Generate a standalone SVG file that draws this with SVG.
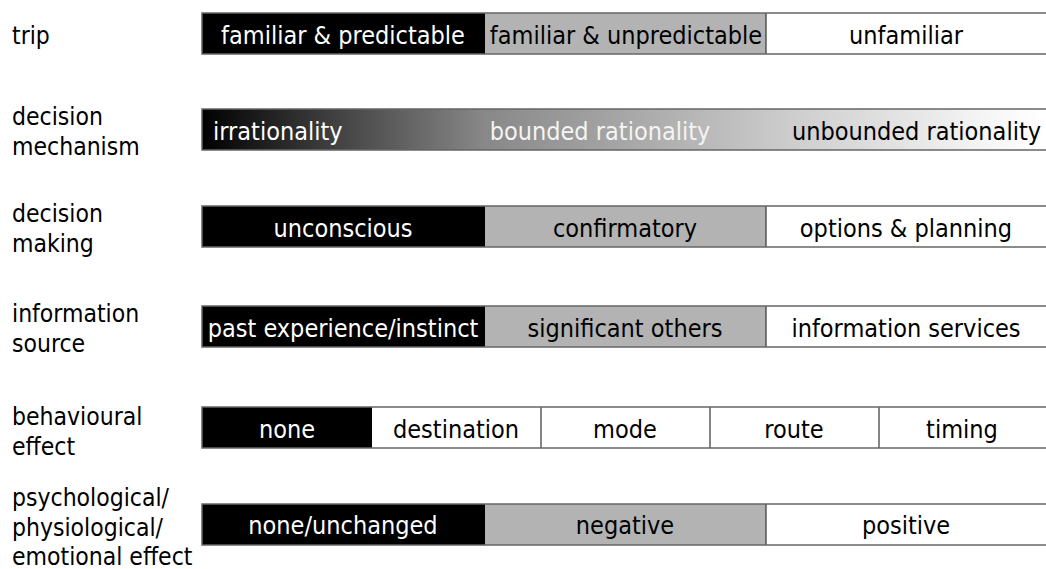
<svg xmlns="http://www.w3.org/2000/svg" width="1046" height="569" viewBox="0 0 1046 569">
<style>
text{font-family:"DejaVu Sans Condensed","DejaVu Sans",sans-serif;font-stretch:condensed;font-size:25px;fill:#000}
.lbl{font-size:24.5px}
.w{fill:#fff}
.c{text-anchor:middle}
.blk{fill:#000}
.gry{fill:#b3b3b3}
.wht{fill:#fff}
.sep{stroke:#333;stroke-width:1.2}
.frame{fill:none;stroke:#666;stroke-width:1.5}
</style>
<defs>
<linearGradient id="grad" x1="202" y1="0" x2="1046" y2="0" gradientUnits="userSpaceOnUse">
<stop offset="0" stop-color="#000"/>
<stop offset="0.01" stop-color="#050505"/>
<stop offset="0.175" stop-color="#484848"/>
<stop offset="0.335" stop-color="#888"/>
<stop offset="0.52" stop-color="#aaa"/>
<stop offset="0.71" stop-color="#cfcfcf"/>
<stop offset="0.945" stop-color="#f8f8f8"/>
<stop offset="1" stop-color="#fff"/>
</linearGradient>
</defs>
<rect width="1046" height="569" fill="#fff"/>

<g id="row-trip">
<text class="lbl" x="12" y="44">trip</text>
<rect class="blk" x="202" y="13" width="283" height="41"/>
<rect class="gry" x="485" y="13" width="281" height="41"/>
<rect class="wht" x="766" y="13" width="280" height="41"/>
<line class="sep" x1="766" y1="13" x2="766" y2="54"/>
<rect class="frame" x="202" y="13" width="850" height="41"/>
<text class="c w" x="343" y="44">familiar &amp; predictable</text>
<text class="c" x="626" y="44">familiar &amp; unpredictable</text>
<text class="c" x="906" y="44">unfamiliar</text>
</g>

<g id="row-decision-mechanism">
<text class="lbl" x="12" y="125">decision</text>
<text class="lbl" x="12" y="155">mechanism</text>
<rect x="202" y="109" width="850" height="41" fill="url(#grad)"/>
<rect class="frame" x="202" y="109" width="850" height="41"/>
<text class="w" x="213" y="140">irrationality</text>
<text class="c" x="600" y="140" style="fill:#f4f4f4">bounded rationality</text>
<text x="1041" y="140" text-anchor="end">unbounded rationality</text>
</g>

<g id="row-decision-making">
<text class="lbl" x="12" y="222">decision</text>
<text class="lbl" x="12" y="252">making</text>
<rect class="blk" x="202" y="206" width="283" height="41"/>
<rect class="gry" x="485" y="206" width="281" height="41"/>
<rect class="wht" x="766" y="206" width="280" height="41"/>
<line class="sep" x1="766" y1="206" x2="766" y2="247"/>
<rect class="frame" x="202" y="206" width="850" height="41"/>
<text class="c w" x="343" y="237">unconscious</text>
<text class="c" x="625" y="237">confirmatory</text>
<text class="c" x="906" y="237">options &amp; planning</text>
</g>

<g id="row-information-source">
<text class="lbl" x="12" y="322">information</text>
<text class="lbl" x="12" y="352">source</text>
<rect class="blk" x="202" y="306" width="283" height="41"/>
<rect class="gry" x="485" y="306" width="281" height="41"/>
<rect class="wht" x="766" y="306" width="280" height="41"/>
<line class="sep" x1="766" y1="306" x2="766" y2="347"/>
<rect class="frame" x="202" y="306" width="850" height="41"/>
<text class="c w" x="343" y="337">past experience/instinct</text>
<text class="c" x="625" y="337">significant others</text>
<text class="c" x="906" y="337">information services</text>
</g>

<g id="row-behavioural-effect">
<text class="lbl" x="12" y="425">behavioural</text>
<text class="lbl" x="12" y="455">effect</text>
<rect class="blk" x="202" y="407" width="170" height="41"/>
<rect class="wht" x="372" y="407" width="674" height="41"/>
<line class="sep" x1="541" y1="407" x2="541" y2="448"/>
<line class="sep" x1="710" y1="407" x2="710" y2="448"/>
<line class="sep" x1="879" y1="407" x2="879" y2="448"/>
<rect class="frame" x="202" y="407" width="850" height="41"/>
<text class="c w" x="287" y="438">none</text>
<text class="c" x="456" y="438">destination</text>
<text class="c" x="625" y="438">mode</text>
<text class="c" x="794" y="438">route</text>
<text class="c" x="962" y="438">timing</text>
</g>

<g id="row-psychological-effect">
<text class="lbl" x="12" y="506">psychological/</text>
<text class="lbl" x="12" y="536">physiological/</text>
<text class="lbl" x="12" y="565">emotional effect</text>
<rect class="blk" x="202" y="504" width="283" height="41"/>
<rect class="gry" x="485" y="504" width="281" height="41"/>
<rect class="wht" x="766" y="504" width="280" height="41"/>
<line class="sep" x1="766" y1="504" x2="766" y2="545"/>
<rect class="frame" x="202" y="504" width="850" height="41"/>
<text class="c w" x="343" y="534">none/unchanged</text>
<text class="c" x="625" y="534">negative</text>
<text class="c" x="906" y="534">positive</text>
</g>
</svg>
